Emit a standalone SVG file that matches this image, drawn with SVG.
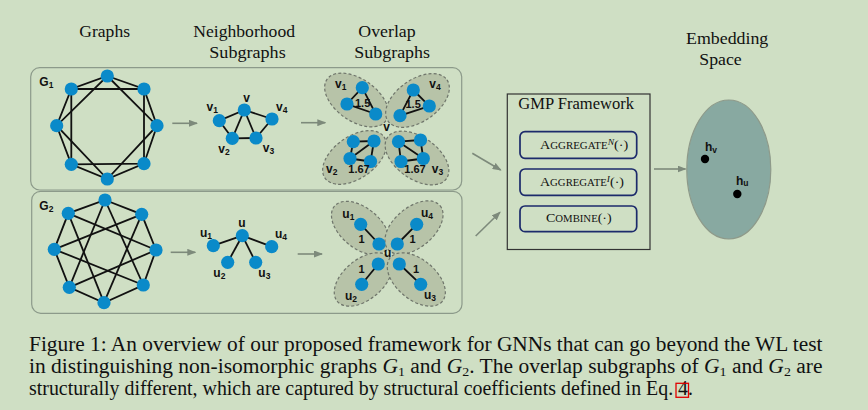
<svg xmlns="http://www.w3.org/2000/svg" width="868" height="410" viewBox="0 0 868 410">
<defs>
<marker id="ah" markerUnits="userSpaceOnUse" markerWidth="9" markerHeight="7" refX="8" refY="3.5" orient="auto">
<path d="M0,0 L9,3.5 L0,7 z" fill="#7d8a7b"/>
</marker>
<style>
.bg{fill:#cfdfc4}
.panel{fill:none;stroke:#8c9a8a;stroke-width:1.2}
.e{stroke:#111;stroke-width:1.8;fill:none}
.n{fill:#0a8ac9}
.ar{stroke:#7d8a7b;stroke-width:1.6;fill:none;marker-end:url(#ah)}
.ov{fill:#b7c3a8;stroke:#6f756b;stroke-width:1.2;stroke-dasharray:3 2.2}
.hd{font-family:"Liberation Serif","Times New Roman",serif;font-size:17.5px;fill:#111}
.lb{font-family:"Liberation Sans",Arial,sans-serif;font-weight:bold;font-size:12px;fill:#111}
.sb{font-size:8.5px}
.nm{font-family:"Liberation Sans",Arial,sans-serif;font-weight:bold;font-size:11px;fill:#111}
.ib{fill:none;stroke:#1c2a6b;stroke-width:1.7}
.sc{font-family:"Liberation Serif","Times New Roman",serif;font-size:12.5px;fill:#111}
.cap{font-family:"Liberation Serif","Times New Roman",serif;font-size:20px;fill:#111}
</style>
</defs>
<rect class="bg" x="0" y="0" width="868" height="410"/>

<g id="headers">
<text class="hd" x="79.3" y="36.7" textLength="50.7" lengthAdjust="spacingAndGlyphs">Graphs</text>
<text class="hd" x="193.3" y="36.7" textLength="101.7" lengthAdjust="spacingAndGlyphs">Neighborhood</text>
<text class="hd" x="209.3" y="58.3" textLength="76.4" lengthAdjust="spacingAndGlyphs">Subgraphs</text>
<text class="hd" x="358.3" y="36.7" textLength="57.4" lengthAdjust="spacingAndGlyphs">Overlap</text>
<text class="hd" x="354.3" y="58.3" textLength="75.7" lengthAdjust="spacingAndGlyphs">Subgraphs</text>
<text class="hd" x="686" y="43.5" textLength="82.3" lengthAdjust="spacingAndGlyphs">Embedding</text>
<text class="hd" x="699.3" y="65" textLength="42.4" lengthAdjust="spacingAndGlyphs">Space</text>
</g>

<g id="panel1">
<rect class="panel" x="30.7" y="67.7" width="431" height="122.3" rx="9"/>
<text class="lb" x="39.3" y="86" font-size="13">G<tspan class="sb" dy="2">1</tspan></text>
</g>
<g id="panel2">
<rect class="panel" x="31.7" y="191.3" width="430.3" height="122" rx="9"/>
<text class="lb" x="39.3" y="210" font-size="13">G<tspan class="sb" dy="2">2</tspan></text>
</g>

<g id="connectors">
<line class="ar" x1="172.3" y1="123.3" x2="197" y2="123.3"/>
<line class="ar" x1="301" y1="122.7" x2="325.3" y2="122.7"/>
<line class="ar" x1="170.7" y1="252.3" x2="195.3" y2="252.3"/>
<line class="ar" x1="297.7" y1="254" x2="322" y2="254"/>
<line class="ar" x1="472.3" y1="153.3" x2="500.7" y2="170"/>
<line class="ar" x1="475.7" y1="236" x2="500" y2="212.3"/>
<line class="ar" x1="654" y1="169" x2="685.5" y2="169"/>
</g>

<g id="graph-G1">
<g class="e">
<polygon points="107.3,76 144,89 157,125.7 144,163.7 107.3,179 71.3,164.3 56.7,125.7 71.3,89"/>
<polygon points="107.3,76 157,125.7 107.3,179 56.7,125.7"/>
<polygon points="144,89 144,163.7 71.3,164.3 71.3,89"/>
</g>
<g class="n">
<circle cx="107.3" cy="76" r="6.6"/><circle cx="144" cy="89" r="6.6"/><circle cx="157" cy="125.7" r="6.6"/><circle cx="144" cy="163.7" r="6.6"/>
<circle cx="107.3" cy="179" r="6.6"/><circle cx="71.3" cy="164.3" r="6.6"/><circle cx="56.7" cy="125.7" r="6.6"/><circle cx="71.3" cy="89" r="6.6"/>
</g>
</g>

<g id="graph-G2">
<g class="e">
<polygon points="105,200 141.7,214.3 156,250 143.3,285 104,302.7 69.3,287.3 54.3,249.3 68.3,213.3"/>
<line x1="105" y1="200" x2="143.3" y2="285"/>
<line x1="141.7" y1="214.3" x2="104" y2="302.7"/>
<line x1="156" y1="250" x2="69.3" y2="287.3"/>
<line x1="143.3" y1="285" x2="54.3" y2="249.3"/>
<line x1="104" y1="302.7" x2="68.3" y2="213.3"/>
<line x1="69.3" y1="287.3" x2="105" y2="200"/>
<line x1="54.3" y1="249.3" x2="141.7" y2="214.3"/>
<line x1="68.3" y1="213.3" x2="156" y2="250"/>
</g>
<g class="n">
<circle cx="105" cy="200" r="6.6"/><circle cx="141.7" cy="214.3" r="6.6"/><circle cx="156" cy="250" r="6.6"/><circle cx="143.3" cy="285" r="6.6"/>
<circle cx="104" cy="302.7" r="6.6"/><circle cx="69.3" cy="287.3" r="6.6"/><circle cx="54.3" cy="249.3" r="6.6"/><circle cx="68.3" cy="213.3" r="6.6"/>
</g>
</g>

<g id="neighborhood-v">
<g class="e">
<line x1="244.3" y1="110" x2="219.3" y2="120.7"/>
<line x1="244.3" y1="110" x2="272" y2="119"/>
<line x1="244.3" y1="110" x2="232.3" y2="138.3"/>
<line x1="244.3" y1="110" x2="256" y2="138"/>
<line x1="219.3" y1="120.7" x2="232.3" y2="138.3"/>
<line x1="232.3" y1="138.3" x2="256" y2="138"/>
<line x1="256" y1="138" x2="272" y2="119"/>
</g>
<g class="n">
<circle cx="244.3" cy="110" r="6.6"/><circle cx="219.3" cy="120.7" r="6.6"/><circle cx="272" cy="119" r="6.6"/><circle cx="232.3" cy="138.3" r="6.6"/><circle cx="256" cy="138" r="6.6"/>
</g>
<text class="lb" x="243.3" y="101.7">v</text>
<text class="lb" x="206.5" y="110.7">v<tspan class="sb" dy="2">1</tspan></text>
<text class="lb" x="276" y="110.7">v<tspan class="sb" dy="2">4</tspan></text>
<text class="lb" x="218.3" y="152.7">v<tspan class="sb" dy="2">2</tspan></text>
<text class="lb" x="262.7" y="152">v<tspan class="sb" dy="2">3</tspan></text>
</g>

<g id="neighborhood-u">
<g class="e">
<line x1="242.3" y1="235.7" x2="213.3" y2="245.7"/>
<line x1="242.3" y1="235.7" x2="271.7" y2="246.7"/>
<line x1="242.3" y1="235.7" x2="227.7" y2="262.3"/>
<line x1="242.3" y1="235.7" x2="255.7" y2="262.3"/>
</g>
<g class="n">
<circle cx="242.3" cy="235.7" r="6.6"/><circle cx="213.3" cy="245.7" r="6.6"/><circle cx="271.7" cy="246.7" r="6.6"/><circle cx="227.7" cy="262.3" r="6.6"/><circle cx="255.7" cy="262.3" r="6.6"/>
</g>
<text class="lb" x="238.3" y="226.7">u</text>
<text class="lb" x="200" y="236.7">u<tspan class="sb" dy="2">1</tspan></text>
<text class="lb" x="275" y="238">u<tspan class="sb" dy="2">4</tspan></text>
<text class="lb" x="213.3" y="277.3">u<tspan class="sb" dy="2">2</tspan></text>
<text class="lb" x="258.3" y="277">u<tspan class="sb" dy="2">3</tspan></text>
</g>

<g id="overlap-v">
<ellipse class="ov" cx="356.5" cy="100" rx="36" ry="21" transform="rotate(35 356.5 100)"/>
<ellipse class="ov" cx="417.5" cy="100.5" rx="36" ry="21" transform="rotate(-35 417.5 100.5)"/>
<ellipse class="ov" cx="354.5" cy="157.5" rx="36" ry="21" transform="rotate(-35 354.5 157.5)"/>
<ellipse class="ov" cx="417" cy="158" rx="36" ry="21" transform="rotate(35 417 158)"/>
<g class="e">
<polygon points="362.3,87.7 347,104 375.7,114"/>
<polygon points="413.3,90 429.3,106 400,115.7"/>
<line x1="353.3" y1="141.7" x2="374" y2="141"/>
<line x1="353.3" y1="141.7" x2="350" y2="158.5"/>
<line x1="350" y1="158.5" x2="374" y2="141"/>
<line x1="350" y1="158.5" x2="370.5" y2="161.5"/>
<line x1="374" y1="141" x2="370.5" y2="161.5"/>
<line x1="398.5" y1="141.7" x2="420.5" y2="140"/>
<line x1="398.5" y1="141.7" x2="401" y2="161.5"/>
<line x1="398.5" y1="141.7" x2="423.3" y2="158.5"/>
<line x1="401" y1="161.5" x2="423.3" y2="158.5"/>
<line x1="420.5" y1="140" x2="423.3" y2="158.5"/>
</g>
<g class="n">
<circle cx="362.3" cy="87.7" r="6.6"/><circle cx="347" cy="104" r="6.6"/><circle cx="375.7" cy="114" r="6.6"/>
<circle cx="413.3" cy="90" r="6.6"/><circle cx="429.3" cy="106" r="6.6"/><circle cx="400" cy="115.7" r="6.6"/>
<circle cx="353.3" cy="141.7" r="6.6"/><circle cx="374" cy="141" r="6.6"/><circle cx="350" cy="158.5" r="6.6"/><circle cx="370.5" cy="161.5" r="6.6"/>
<circle cx="398.5" cy="141.7" r="6.6"/><circle cx="420.5" cy="140" r="6.6"/><circle cx="401" cy="161.5" r="6.6"/><circle cx="423.3" cy="158.5" r="6.6"/>
</g>
<text class="lb" x="335" y="88.3">v<tspan class="sb" dy="2">1</tspan></text>
<text class="lb" x="429.3" y="88">v<tspan class="sb" dy="2">4</tspan></text>
<text class="lb" x="383.3" y="131">v</text>
<text class="lb" x="326" y="173.3">v<tspan class="sb" dy="2">2</tspan></text>
<text class="lb" x="431.7" y="173">v<tspan class="sb" dy="2">3</tspan></text>
<text class="nm" x="355" y="107.3">1.5</text>
<text class="nm" x="405.5" y="108">1.5</text>
<text class="nm" x="348.3" y="173.3">1.67</text>
<text class="nm" x="404.3" y="173.3">1.67</text>
</g>

<g id="overlap-u">
<ellipse class="ov" cx="360.5" cy="228" rx="34" ry="20" transform="rotate(40 360.5 228)"/>
<ellipse class="ov" cx="414" cy="227.5" rx="34" ry="20" transform="rotate(-40 414 227.5)"/>
<ellipse class="ov" cx="363.3" cy="279.5" rx="34" ry="20" transform="rotate(-40 363.3 279.5)"/>
<ellipse class="ov" cx="416.3" cy="279.5" rx="34" ry="20" transform="rotate(40 416.3 279.5)"/>
<g class="e">
<line x1="360.7" y1="224.3" x2="379" y2="244"/>
<line x1="416.7" y1="224.3" x2="397.3" y2="244"/>
<line x1="378.3" y1="264" x2="361.7" y2="284.3"/>
<line x1="399.3" y1="264" x2="420.7" y2="284.3"/>
</g>
<g class="n">
<circle cx="360.7" cy="224.3" r="6.6"/><circle cx="379" cy="244" r="6.6"/>
<circle cx="416.7" cy="224.3" r="6.6"/><circle cx="397.3" cy="244" r="6.6"/>
<circle cx="378.3" cy="264" r="6.6"/><circle cx="361.7" cy="284.3" r="6.6"/>
<circle cx="399.3" cy="264" r="6.6"/><circle cx="420.7" cy="284.3" r="6.6"/>
</g>
<text class="lb" x="342.3" y="218.3">u<tspan class="sb" dy="2">1</tspan></text>
<text class="lb" x="421" y="216.7">u<tspan class="sb" dy="2">4</tspan></text>
<text class="lb" x="384" y="256.7">u</text>
<text class="lb" x="345" y="300">u<tspan class="sb" dy="2">2</tspan></text>
<text class="lb" x="424" y="298.7">u<tspan class="sb" dy="2">3</tspan></text>
<text class="nm" x="358.5" y="243.3">1</text>
<text class="nm" x="409.5" y="243">1</text>
<text class="nm" x="358.5" y="272.7">1</text>
<text class="nm" x="413" y="272.7">1</text>
</g>

<g id="gmp">
<rect x="507.3" y="94" width="142.7" height="155.5" fill="none" stroke="#333" stroke-width="1.2"/>
<text class="hd" x="518.3" y="109.3" textLength="115.7" lengthAdjust="spacingAndGlyphs" font-size="16.5">GMP Framework</text>
<rect class="ib" x="520" y="131.7" width="116.7" height="26.6" rx="5"/>
<rect class="ib" x="520" y="169" width="116.7" height="26.3" rx="5"/>
<rect class="ib" x="520" y="206" width="116.7" height="25.7" rx="5"/>
<text class="sc" x="540" y="149" textLength="88.3" lengthAdjust="spacingAndGlyphs">A<tspan font-size="9.6">GGREGATE</tspan><tspan font-size="8.5" font-style="italic" dy="-4.5">N</tspan><tspan dy="4.5">(·)</tspan></text>
<text class="sc" x="540" y="186" textLength="84" lengthAdjust="spacingAndGlyphs">A<tspan font-size="9.6">GGREGATE</tspan><tspan font-size="8.5" font-style="italic" dy="-4.5">I</tspan><tspan dy="4.5">(·)</tspan></text>
<text class="sc" x="546" y="221.7" textLength="65.7" lengthAdjust="spacingAndGlyphs">C<tspan font-size="9.6">OMBINE</tspan>(·)</text>
</g>

<g id="embedding">
<ellipse cx="728.8" cy="169.5" rx="42" ry="69.5" fill="#88a9a1" stroke="#8e9a8a" stroke-width="1.2"/>
<circle cx="705" cy="159" r="4.2" fill="#000"/>
<circle cx="737.3" cy="194" r="4.2" fill="#000"/>
<text class="lb" x="705" y="151" font-size="11">h<tspan class="sb" font-size="7.5" dy="1.5">v</tspan></text>
<text class="lb" x="736" y="184.5" font-size="11">h<tspan class="sb" font-size="7.5" dy="1.5">u</tspan></text>
</g>

<g id="caption">
<text class="cap" x="29" y="351" textLength="793.5" lengthAdjust="spacingAndGlyphs">Figure 1:  An overview of our proposed framework for GNNs that can go beyond the WL test</text>
<text class="cap" x="29" y="373" textLength="793.5" lengthAdjust="spacingAndGlyphs">in distinguishing non-isomorphic graphs <tspan font-style="italic">G</tspan><tspan font-size="13" dy="3">1</tspan><tspan dy="-3"> and </tspan><tspan font-style="italic">G</tspan><tspan font-size="13" dy="3">2</tspan><tspan dy="-3">.  The overlap subgraphs of </tspan><tspan font-style="italic">G</tspan><tspan font-size="13" dy="3">1</tspan><tspan dy="-3"> and </tspan><tspan font-style="italic">G</tspan><tspan font-size="13" dy="3">2</tspan><tspan dy="-3"> are</tspan></text>
<text class="cap" x="29" y="394.5" textLength="664" lengthAdjust="spacingAndGlyphs">structurally different, which are captured by structural coefficients defined in Eq. 4.</text>
<rect x="676" y="383.3" width="12.5" height="14" fill="none" stroke="#e00000" stroke-width="1.3"/>
</g>
</svg>
